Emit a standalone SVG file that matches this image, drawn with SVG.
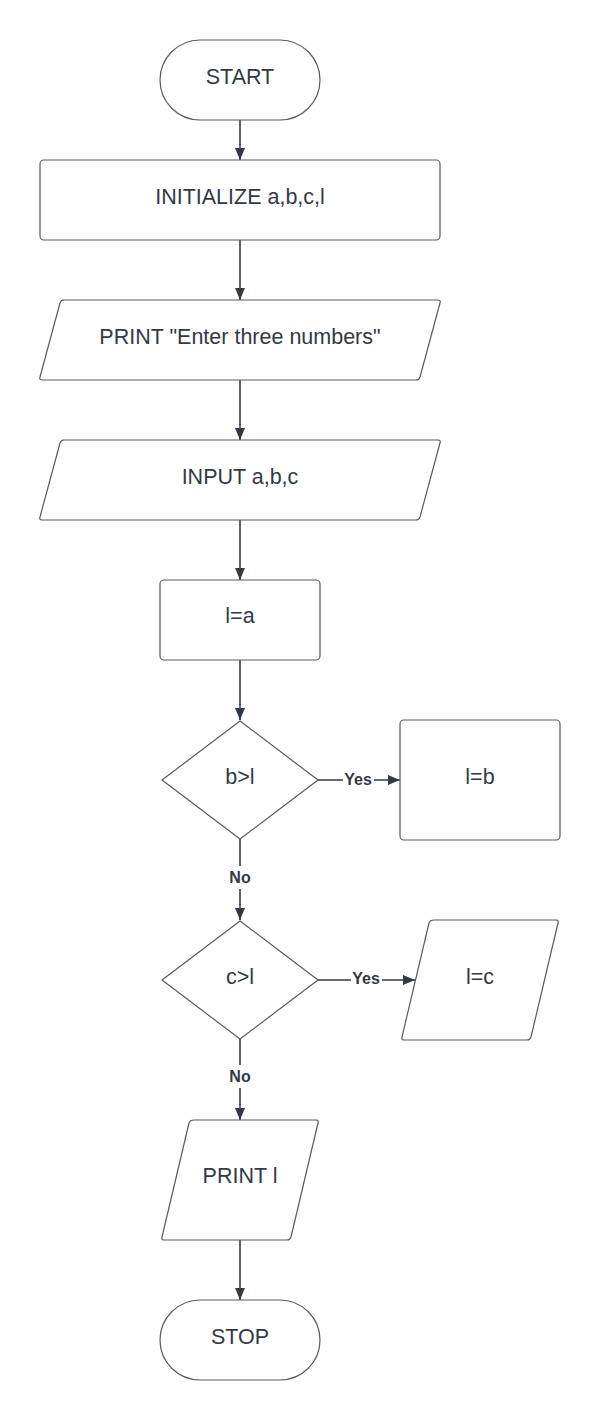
<svg xmlns="http://www.w3.org/2000/svg" width="600" height="1420" viewBox="0 0 600 1420">
<defs>
<marker id="ah" markerWidth="12" markerHeight="10" refX="12" refY="5" orient="auto" markerUnits="userSpaceOnUse">
<path d="M0,0 L12,5 L0,10 Z" fill="#333a45"/>
</marker>
<style>
.n{fill:#fff;stroke:#5a5a5a;stroke-width:1.2}
.t{font-family:"Liberation Sans",Arial,sans-serif;font-size:21.5px;fill:#333a45;text-anchor:middle;dominant-baseline:central}
.c{stroke:#333a45;stroke-width:1.6;fill:none}
.l{font-family:"Liberation Sans",Arial,sans-serif;font-size:16px;font-weight:bold;fill:#333a45;text-anchor:middle;dominant-baseline:central}
.bg{fill:#fff}
</style>
</defs>
<rect width="600" height="1420" fill="#fff"/>
<g id="connectors">
<line class="c" x1="240" y1="120" x2="240" y2="160" marker-end="url(#ah)"/>
<line class="c" x1="240" y1="240" x2="240" y2="300" marker-end="url(#ah)"/>
<line class="c" x1="240" y1="380" x2="240" y2="440" marker-end="url(#ah)"/>
<line class="c" x1="240" y1="520" x2="240" y2="580" marker-end="url(#ah)"/>
<line class="c" x1="240" y1="660" x2="240" y2="720" marker-end="url(#ah)"/>
<line class="c" x1="318" y1="780" x2="400" y2="780" marker-end="url(#ah)"/>
<rect class="bg" x="343" y="770" width="31" height="20"/>
<text class="l" x="358" y="779">Yes</text>
<line class="c" x1="240" y1="838" x2="240" y2="920" marker-end="url(#ah)"/>
<rect class="bg" x="226" y="866" width="28" height="23"/>
<text class="l" x="240" y="877">No</text>
<line class="c" x1="318" y1="980" x2="415" y2="980" marker-end="url(#ah)"/>
<rect class="bg" x="351" y="970" width="31" height="20"/>
<text class="l" x="366" y="978">Yes</text>
<line class="c" x1="240" y1="1038" x2="240" y2="1120" marker-end="url(#ah)"/>
<rect class="bg" x="226" y="1065" width="28" height="23"/>
<text class="l" x="240" y="1076">No</text>
<line class="c" x1="240" y1="1240" x2="240" y2="1300" marker-end="url(#ah)"/>
</g>
<g id="start">
<rect class="n" x="160" y="40" width="160" height="80" rx="40" ry="40"/>
<text class="t" x="240" y="77">START</text>
</g>
<g id="init">
<rect class="n" x="40" y="160" width="400" height="80" rx="4"/>
<text class="t" x="240" y="197">INITIALIZE a,b,c,l</text>
</g>
<g id="print-prompt">
<path class="n" d="M62,300 L438,300 Q441,300 440,303 L420,377 Q419,380 416,380 L42,380 Q39,380 40,377 L60,303 Q61,300 64,300 Z"/>
<text class="t" x="240" y="337">PRINT "Enter three numbers"</text>
</g>
<g id="input">
<path class="n" d="M62,440 L438,440 Q441,440 440,443 L420,517 Q419,520 416,520 L42,520 Q39,520 40,517 L60,443 Q61,440 64,440 Z"/>
<text class="t" x="240" y="477">INPUT a,b,c</text>
</g>
<g id="l-eq-a">
<rect class="n" x="160" y="580" width="160" height="80" rx="4"/>
<text class="t" x="240" y="616">l=a</text>
</g>
<g id="b-gt-l">
<path class="n" d="M240,721 L318,780 L240,839 L162,780 Z" stroke-linejoin="round"/>
<text class="t" x="240" y="777">b&gt;l</text>
</g>
<g id="l-eq-b">
<rect class="n" x="400" y="720" width="160" height="120" rx="4"/>
<text class="t" x="480" y="777">l=b</text>
</g>
<g id="c-gt-l">
<path class="n" d="M240,921 L318,980 L240,1039 L162,980 Z" stroke-linejoin="round"/>
<text class="t" x="240" y="977">c&gt;l</text>
</g>
<g id="l-eq-c">
<path class="n" d="M434,920 L556,920 Q559,920 558,923 L531,1037 Q530,1040 527,1040 L404,1040 Q401,1040 402,1037 L429,923 Q430,920 434,920 Z"/>
<text class="t" x="480" y="977">l=c</text>
</g>
<g id="print-l">
<path class="n" d="M194,1120 L316,1120 Q319,1120 318,1123 L291,1237 Q290,1240 287,1240 L164,1240 Q161,1240 162,1237 L189,1123 Q190,1120 194,1120 Z"/>
<text class="t" x="240" y="1176">PRINT l</text>
</g>
<g id="stop">
<rect class="n" x="160" y="1300" width="160" height="80" rx="40" ry="40"/>
<text class="t" x="240" y="1337">STOP</text>
</g>
</svg>
